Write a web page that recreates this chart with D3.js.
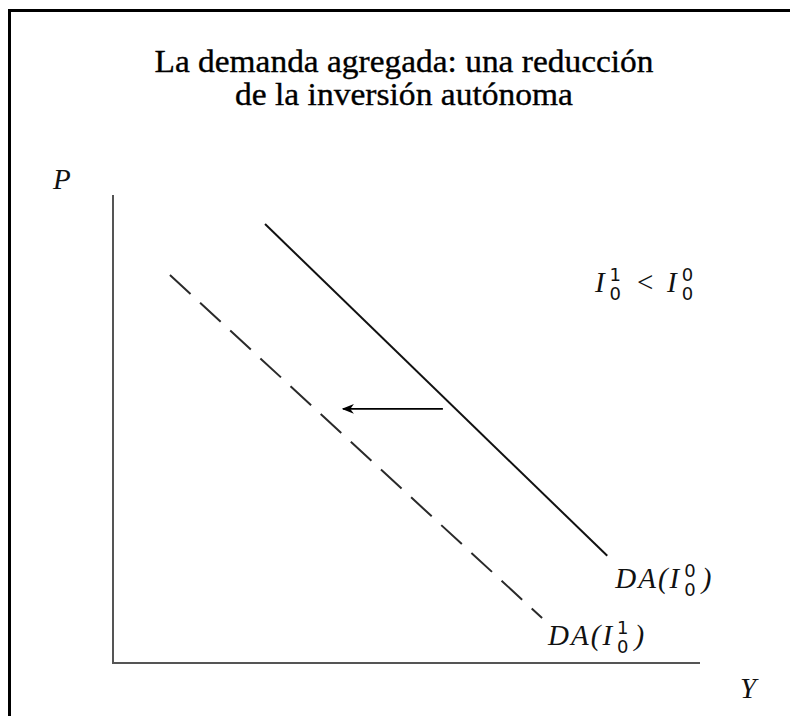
<!DOCTYPE html>
<html lang="es">
<head>
    <meta charset="UTF-8">
    <title>La demanda agregada: una reducción de la inversión autónoma</title>
    <script src="https://d3js.org/d3.v7.min.js"></script>
    <style>
        body { margin: 0; background: #fff; }
        .title { font-family: "Times New Roman", "Liberation Serif", "DejaVu Serif", serif; font-size: 32px; fill: #000; stroke: #000; stroke-width: 0.35; text-anchor: middle; }
        .var { font-family: "Times New Roman", "Liberation Serif", "DejaVu Serif", serif; font-style: italic; font-size: 29px; fill: #111; letter-spacing: 2px; }
        .idx { font-family: "DejaVu Sans", sans-serif; font-size: 18px; fill: #111; }
    </style>
</head>
<body>
<div id="chart"></div>
<script>
    // Title lines
    const titleLines = ["La demanda agregada: una reducción", "de la inversión autónoma"];
    const titleWidths = [499, 338];

    // Curves in model units (x: Y, y: P), axes run 0..10
    const daInitial = [{ x: 2.59, y: 9.38 }, { x: 8.42, y: 2.29 }];
    const daReduced = [{ x: 0.97, y: 8.29 }, { x: 7.31, y: 0.96 }];
    const shiftArrow = [{ x: 5.62, y: 5.43 }, { x: 3.92, y: 5.43 }];
    const notePoint = { x: 8.21, y: 7.93 };

    const width = 790, height = 716;
    const svg = d3.select("#chart").append("svg")
        .attr("width", width)
        .attr("height", height);

    // frame (runs off the right and bottom edge like the scan)
    svg.append("rect")
        .attr("x", 9.5).attr("y", 10.5)
        .attr("width", 820).attr("height", 740)
        .attr("fill", "none").attr("stroke", "#000").attr("stroke-width", 3);

    svg.selectAll("text.title")
        .data(titleLines)
        .enter().append("text")
        .attr("class", "title")
        .attr("x", 404)
        .attr("y", (d, i) => 72 + i * 33)
        .attr("textLength", (d, i) => titleWidths[i])
        .attr("lengthAdjust", "spacingAndGlyphs")
        .text(d => d);

    const x = d3.scaleLinear().domain([0, 10]).range([113, 700]);
    const y = d3.scaleLinear().domain([0, 10]).range([663, 195]);

    // axes without ticks
    svg.append("path")
        .attr("d", `M${x(0)},${y(10)}V${y(0)}H${x(10)}`)
        .attr("fill", "none").attr("stroke", "#555").attr("stroke-width", 2);

    const line = d3.line().x(d => x(d.x)).y(d => y(d.y));

    svg.append("path").datum(daInitial)
        .attr("d", line)
        .attr("fill", "none").attr("stroke", "#111").attr("stroke-width", 2);

    svg.append("path").datum(daReduced)
        .attr("d", line)
        .attr("fill", "none").attr("stroke", "#2a2a2a").attr("stroke-width", 2)
        .attr("stroke-dasharray", "28,13");

    svg.append("defs").append("marker")
        .attr("id", "head")
        .attr("viewBox", "0 0 10 10")
        .attr("refX", 9).attr("refY", 5)
        .attr("markerWidth", 12).attr("markerHeight", 12)
        .attr("markerUnits", "userSpaceOnUse")
        .attr("orient", "auto")
        .append("path")
        .attr("d", "M0,1L10,5L0,9L3,5Z")
        .attr("fill", "#000");

    svg.append("path").datum(shiftArrow)
        .attr("d", line)
        .attr("fill", "none").attr("stroke", "#000").attr("stroke-width", 1.6)
        .attr("marker-end", "url(#head)");

    // draws italic text followed by stacked sub/superscripts, returns end x
    function stacked(g, px, py, base, sub, sup) {
        const t = g.append("text").attr("class", "var").attr("x", px).attr("y", py).text(base);
        const w = t.node().getComputedTextLength();
        const ix = px + w + 3;
        const a = g.append("text").attr("class", "idx").attr("x", ix).attr("y", py + 8).text(sub);
        const b = g.append("text").attr("class", "idx").attr("x", ix).attr("y", py - 11).text(sup);
        return ix + Math.max(a.node().getComputedTextLength(), b.node().getComputedTextLength());
    }

    const g = svg.append("g");

    // I_0^1 < I_0^0
    let nx = x(notePoint.x), ny = y(notePoint.y);
    let e = stacked(g, nx, ny, "I", "0", "1");
    g.append("text").attr("class", "var").style("font-style", "normal")
        .attr("x", e + 16).attr("y", ny).text("<");
    stacked(g, e + 46, ny, "I", "0", "0");

    // curve labels
    const end0 = daInitial[1], end1 = daReduced[1];
    e = stacked(g, x(end0.x) + 8, y(end0.y) + 32, "DA(I", "0", "0");
    g.append("text").attr("class", "var").attr("x", e + 6).attr("y", y(end0.y) + 32).text(")");
    e = stacked(g, x(end1.x) + 6, y(end1.y) + 27, "DA(I", "0", "1");
    g.append("text").attr("class", "var").attr("x", e + 6).attr("y", y(end1.y) + 27).text(")");

    // axis names
    g.append("text").attr("class", "var").attr("x", x(0) - 60).attr("y", y(10) - 6).text("P");
    g.append("text").attr("class", "var").attr("x", x(10) + 40).attr("y", y(0) + 35).text("Y");
</script>
</body>
</html>
